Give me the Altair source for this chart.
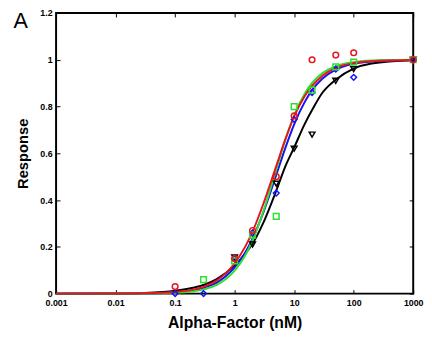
import altair as alt
import pandas as pd

# ---- data ----
series = ["black", "blue", "green", "red"]
colors = ["#000000", "#1414f0", "#2ee02e", "#e8141e"]
shapes = ["triangle-down", "diamond", "square", "circle"]

# fitted curves
conc_fit = [0.001, 0.01, 0.03, 0.1, 0.2, 0.3, 0.5, 1, 1.5, 2, 3, 5, 7, 10, 15, 20, 30, 50, 100, 200, 1000]
fit_red = [0, 0.0003, 0.0015, 0.007, 0.017, 0.029, 0.056, 0.13, 0.20, 0.265, 0.38, 0.545, 0.655, 0.758, 0.844, 0.888, 0.932, 0.965, 0.986, 0.994, 0.999]
fit_green = [0, 0.0001, 0.0005, 0.0035, 0.010, 0.018, 0.037, 0.098, 0.163, 0.228, 0.348, 0.531, 0.652, 0.762, 0.855, 0.901, 0.943, 0.973, 0.990, 0.9965, 0.9997]
fit_blue = [0, 0.0002, 0.0012, 0.006, 0.015, 0.025, 0.047, 0.112, 0.175, 0.236, 0.343, 0.507, 0.618, 0.724, 0.819, 0.870, 0.920, 0.958, 0.983, 0.993, 0.999]
fit_black = [0, 0.0008, 0.003, 0.012, 0.025, 0.037, 0.062, 0.12, 0.17, 0.213, 0.30, 0.44, 0.54, 0.625, 0.725, 0.785, 0.86, 0.915, 0.962, 0.984, 0.998]

# measured points
conc_pts = [0.1, 0.3, 1, 2, 5, 10, 20, 50, 100, 1000]
pts_red = [0.03, None, 0.15, 0.27, 0.50, 0.76, 1.00, 1.02, 1.03, 1.00]
pts_green = [None, 0.06, 0.14, 0.25, 0.33, 0.80, 0.87, 0.97, 0.99, 1.00]
pts_blue = [0.0, 0.0, 0.15, 0.26, 0.43, 0.745, 0.86, 0.96, 0.925, 1.00]
pts_black = [None, None, 0.155, 0.21, 0.47, 0.62, 0.68, 0.91, 0.96, 1.00]

x_ticks = [0.001, 0.01, 0.1, 1, 10, 100, 1000]
y_ticks = [0, 0.2, 0.4, 0.6, 0.8, 1.0, 1.2]

fit_rows = []
for name, ys in zip(series, [fit_black, fit_blue, fit_green, fit_red]):
    for x, y in zip(conc_fit, ys):
        fit_rows.append({"series": name, "x": x, "y": y})
pt_rows = []
for name, ys in zip(series, [pts_black, pts_blue, pts_green, pts_red]):
    for x, y in zip(conc_pts, ys):
        if y is not None:
            pt_rows.append({"series": name, "x": x, "y": y})
fit_df = pd.DataFrame(fit_rows)
pt_df = pd.DataFrame(pt_rows)

FONT = "Liberation Sans"
xscale = alt.Scale(type="log", domain=[0.001, 1000], nice=False)
yscale = alt.Scale(domain=[0, 1.2], nice=False)
cscale = alt.Scale(domain=series, range=colors)
sscale = alt.Scale(domain=series, range=shapes)

common = dict(grid=False, domain=False, ticks=True, tickSize=4, tickColor="black",
              tickWidth=1, offset=-4, labelFont=FONT, labelFontWeight="bold",
              labelFontSize=9, labelColor="black", labelOverlap=False, labelFlush=False)

x_bottom = alt.Axis(orient="bottom", values=x_ticks, format="~g", title="Alpha-Factor (nM)",
                    labelPadding=5, titleFont=FONT, titleFontSize=16, titleFontWeight="bold",
                    titleColor="black", titlePadding=8, **common)
y_left = alt.Axis(orient="left", values=y_ticks, format="~g", title="Response",
                  labelPadding=4, titleFont=FONT, titleFontSize=15, titleFontWeight="bold",
                  titleColor="black", titlePadding=10, **common)
x_top = alt.Axis(orient="top", values=x_ticks, labels=False, title=None, **common)
y_right = alt.Axis(orient="right", values=y_ticks, labels=False, title=None, **common)

lines = alt.Chart(fit_df).mark_line(strokeWidth=2, interpolate="monotone").encode(
    x=alt.X("x:Q", scale=xscale, axis=x_bottom),
    y=alt.Y("y:Q", scale=yscale, axis=y_left),
    color=alt.Color("series:N", scale=cscale, legend=None),
    detail="series:N",
)

points = alt.Chart(pt_df).mark_point(filled=False, size=34, strokeWidth=1.5, opacity=1).encode(
    x=alt.X("x:Q", scale=xscale, axis=x_top),
    y=alt.Y("y:Q", scale=yscale, axis=y_right),
    color=alt.Color("series:N", scale=cscale, legend=None),
    shape=alt.Shape("series:N", scale=sscale, legend=None),
)

panel_label = alt.Chart(pd.DataFrame({"t": ["A"]})).mark_text(
    fontSize=22, font=FONT, align="center", baseline="alphabetic", color="black"
).encode(x=alt.value(-36), y=alt.value(15), text="t:N")

chart = alt.layer(lines, points, panel_label).resolve_axis(
    x="independent", y="independent"
).properties(
    width=364, height=286,
    autosize=alt.AutoSizeParams(type="none"),
    padding={"left": 49, "top": 2, "right": 11, "bottom": 35},
).configure_view(stroke="black", strokeWidth=2)

chart.save("out.html", embed_options={"renderer": "svg", "actions": False})
